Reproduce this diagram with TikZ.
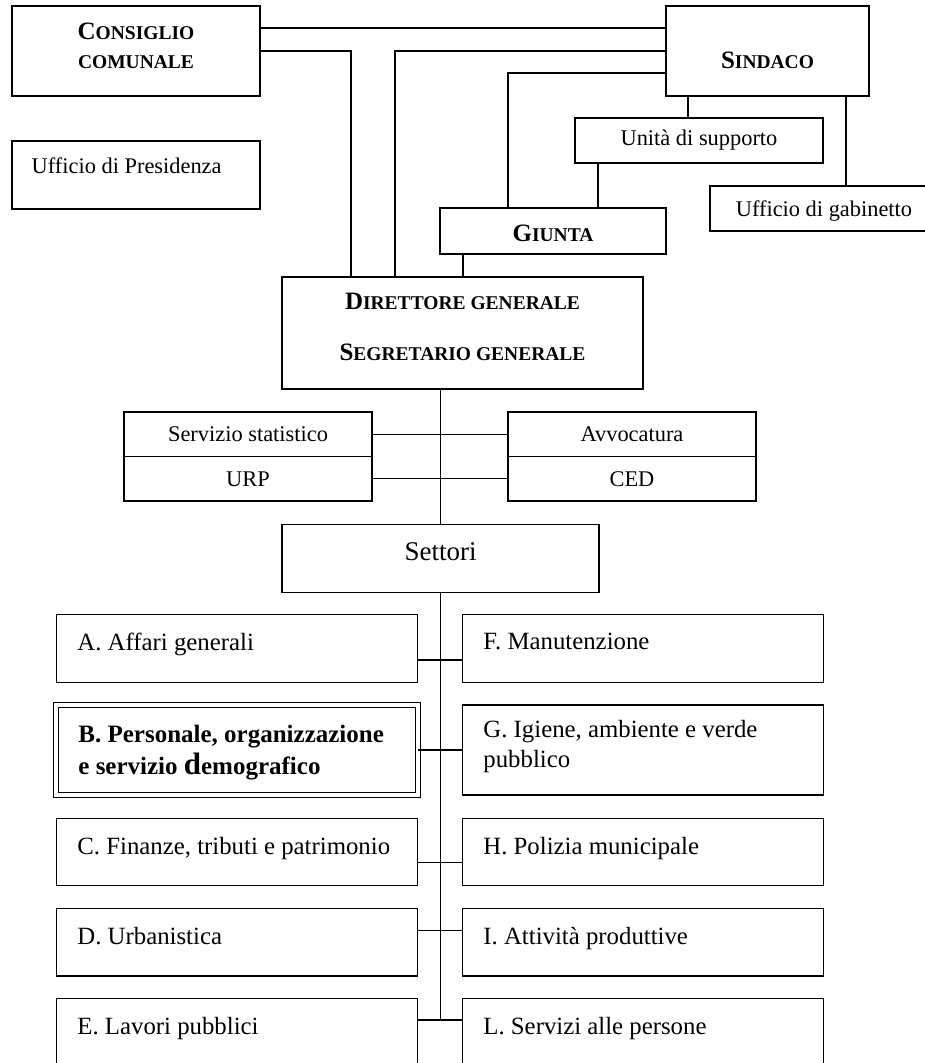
\documentclass[tikz,border=0pt]{standalone}
\usepackage{fontspec}
\setmainfont{Liberation Serif}

% Bold small capitals: one big letter, then the small ones

\newcommand{\bigsmall}[2]{{\bfseries\fontsize{25}{29}\selectfont #1\fontsize{19.5}{29}\selectfont #2}}

\begin{document}
\begin{tikzpicture}[x = 1pt, y = -1pt, line width = 1.4pt,
	box/.style = {draw, rectangle, anchor = north west, inner sep = 0pt, outer sep = 0pt, font = \fontsize{22.4}{29}\selectfont},
	staff/.style = {box, minimum width = 248pt, minimum height = 44.5pt, text depth = 0pt},
	sector/.style = {box, minimum width = 361pt},
	boxlabel/.style = {anchor = north west, inner sep = 0pt, align = left, font = \fontsize{22.4}{29}\selectfont},
	sectlabel/.style = {boxlabel, xshift = 20pt, yshift = -17.8pt, font = \fontsize{24.8}{29.5}\selectfont}]

% Page frame

\useasboundingbox (0, 0) rectangle (925, 1063);
\clip (0, 0) rectangle (925, 1063);

% Council, mayor and their offices

\node [box, minimum width = 248pt, minimum height = 90pt, align = center, text depth = 11pt] (council) at (12, 6) {\bigsmall{C}{ONSIGLIO}\\\bigsmall{}{COMUNALE}};
\node [box, minimum width = 248pt, minimum height = 68pt, label = {[boxlabel, xshift = 19pt, yshift = -16pt]north west:Ufficio di Presidenza}] (presidency) at (12, 141) {};

\node [box, minimum width = 203pt, minimum height = 90pt, text height = 34.6pt, text depth = 0pt] (mayor) at (666, 6) {\bigsmall{S}{INDACO}};
\node [box, minimum width = 248pt, minimum height = 45pt] (support) at (575, 118) {Unità di supporto};
\node [box, minimum width = 228pt, minimum height = 45pt, text depth = 0pt] (cabinet) at (710, 186) {Ufficio di gabinetto};
\node [box, minimum width = 226pt, minimum height = 46pt, text height = 21.4pt, text depth = 0pt] (junta) at (440, 208) {\bigsmall{G}{IUNTA}};

% Director and staff offices

\node [box, minimum width = 361pt, minimum height = 112pt, align = center, text depth = 12pt] (director) at (282, 277) {\bigsmall{D}{IRETTORE GENERALE}\\[22pt]\bigsmall{S}{EGRETARIO GENERALE}};

\node [staff] (stats) at (124, 412) {Servizio statistico};
\node [staff] (urp) at (124, 456.5) {URP};
\node [staff] (lawyers) at (508, 412) {Avvocatura};
\node [staff] (ced) at (508, 456.5) {CED};

\node [box, minimum width = 317pt, minimum height = 68pt, font = \fontsize{27}{32}\selectfont, text depth = 14.5pt] (sectors) at (282, 524.5) {Settori};

% Left column of sectors

\node [sector, minimum height = 68.4pt, label = {[sectlabel]north west:A. Affari generali}] (sectA) at (56.7, 614.3) {};
\node [sector, minimum width = 361.6pt, minimum height = 90pt, double, double distance = 3.5pt, label = {[sectlabel, xshift = 1.5pt, yshift = -2pt, font = \bfseries\fontsize{25}{32}\selectfont]north west:B. Personale, organizzazione\\e servizio {\fontsize{31}{32}\selectfont d}emografico}] (sectB) at (56.2, 705) {};
\node [sector, minimum height = 67pt, label = {[sectlabel]north west:C. Finanze, tributi e patrimonio}] (sectC) at (56.7, 818.3) {};
\node [sector, minimum height = 67.7pt, label = {[sectlabel]north west:D. Urbanistica}] (sectD) at (56.7, 908.3) {};
\node [sector, minimum height = 68pt, label = {[sectlabel]north west:E. Lavori pubblici}] (sectE) at (56.7, 998.3) {};

% Right column of sectors

\node [sector, minimum height = 68.4pt, label = {[sectlabel]north west:F. Manutenzione}] (sectF) at (462.7, 614.3) {};
\node [sector, minimum height = 90pt, label = {[sectlabel, yshift = 3pt]north west:G. Igiene, ambiente e verde\\pubblico}] (sectG) at (462.7, 705) {};
\node [sector, minimum height = 67pt, label = {[sectlabel]north west:H. Polizia municipale}] (sectH) at (462.7, 818.3) {};
\node [sector, minimum height = 67.7pt, label = {[sectlabel]north west:I. Attività produttive}] (sectI) at (462.7, 908.3) {};
\node [sector, minimum height = 68pt, label = {[sectlabel]north west:L. Servizi alle persone}] (sectL) at (462.7, 998.3) {};

% Lines from the council and the mayor

\draw (council.east |- 0,28) -- (mayor.west |- 0,28);
\draw (council.east |- 0,51) -| (director.north -| 351,0);
\draw (mayor.west |- 0,51) -| (director.north -| 395,0);
\draw (mayor.west |- 0,73) -| (junta.north -| 508,0);
\draw (mayor.south -| 688,0) -- (support.north -| 688,0);
\draw (support.south -| 598,0) -- (junta.north -| 598,0);
\draw (mayor.south -| 846,0) -- (cabinet.north -| 846,0);
\draw (junta.south -| 463,0) -- (director.north -| 463,0);

% Staff offices

\draw (director.south -| sectors.north) -- (sectors.north);
\draw (stats.east) -- (lawyers.west);
\draw (urp.east) -- (ced.west);

% Sector tree

\draw (sectors.south) -- (sectors.south |- 0,1020);
\foreach \l/\r/\y in {A/F/660, B/G/750, C/H/862.7, D/I/930.7, E/L/1020}
	\draw (sect\l.east |- 0,\y) -- (sect\r.west |- 0,\y);

\end{tikzpicture}
\end{document}
